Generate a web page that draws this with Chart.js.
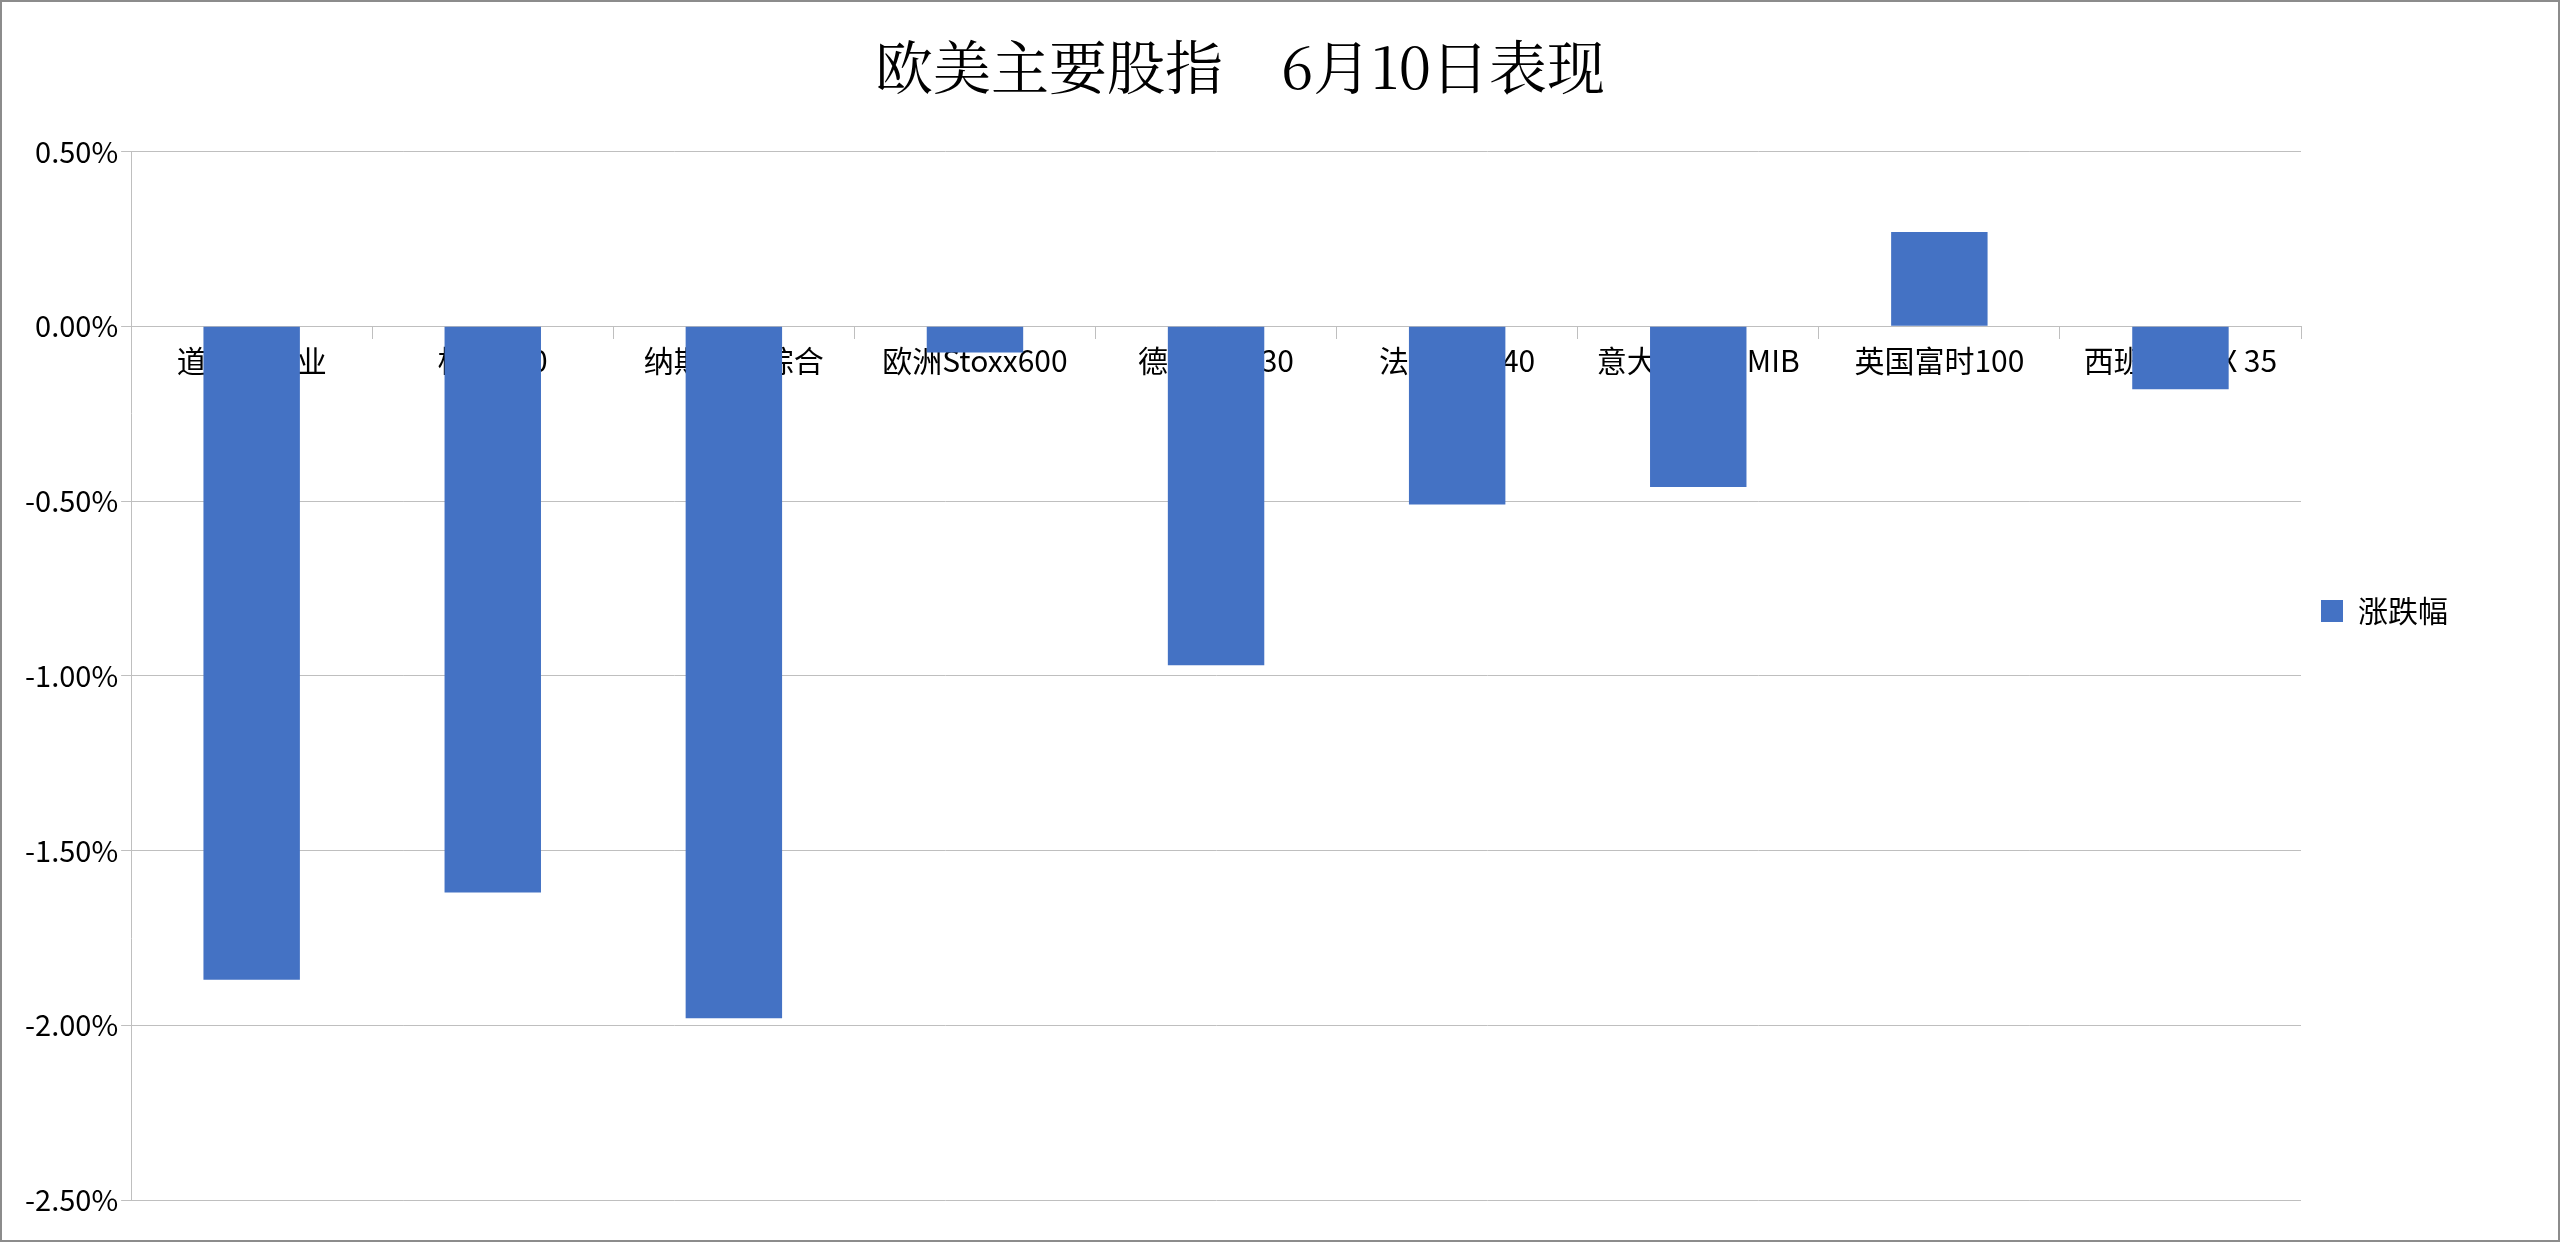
<!DOCTYPE html>
<html><head><meta charset="utf-8">
<script src="https://cdn.jsdelivr.net/npm/chart.js@4"></script>
<style>
html,body{margin:0;padding:0;background:#fff;}
#wrap{position:absolute;left:0;top:0;width:2556px;height:1238px;border:2px solid #8c8c8c;}
</style></head>
<body><div id="wrap"><canvas id="c"></canvas></div>
<script>
const categories = ['道琼斯工业','标普500','纳斯达克综合','欧洲Stoxx600','德国DAX 30','法国CAC 40','意大利富时MIB','英国富时100','西班牙IBEX 35'];
const changes = [-1.87, -1.62, -1.98, -0.075, -0.97, -0.51, -0.46, 0.27, -0.18];
const seriesName = '涨跌幅';
const titleText = '欧美主要股指　6月10日表现';

Chart.defaults.font.family = '"Noto Sans CJK SC", "Noto Sans", sans-serif';
Chart.defaults.color = '#000';

new Chart(document.getElementById('c'), {
  type: 'bar',
  data: {
    labels: categories,
    datasets: [{
      label: seriesName,
      data: changes,
      backgroundColor: '#4472c4',
      barPercentage: 0.4,
      categoryPercentage: 1
    }]
  },
  options: {
    responsive: true,
    maintainAspectRatio: false,
    animation: false,
    layout: {padding: {left: 20, right: 100, top: 20, bottom: 40}},
    plugins: {
      title: {display: true, text: titleText, font: {size: 58, family: '"Noto Serif CJK SC", "DejaVu Serif", serif', weight: 'normal'},
              padding: {top: 10, bottom: 50}},
      legend: {position: 'right', labels: {boxWidth: 22, boxHeight: 22, font: {size: 30}, padding: 20}},
      tooltip: {enabled: false}
    },
    scales: {
      x: {
        position: {y: 0},
        grid: {drawOnChartArea: false, offset: true, color: '#bfbfbf', tickLength: 12},
        border: {color: '#bfbfbf'},
        ticks: {font: {size: 30}, maxRotation: 0, padding: 4}
      },
      y: {
        min: -2.5, max: 0.5,
        ticks: {stepSize: 0.5, font: {size: 29}, callback: v => v.toFixed(2) + '%'},
        grid: {color: '#bfbfbf', tickLength: 10},
        border: {color: '#bfbfbf'}
      }
    }
  }
});
</script></body></html>
